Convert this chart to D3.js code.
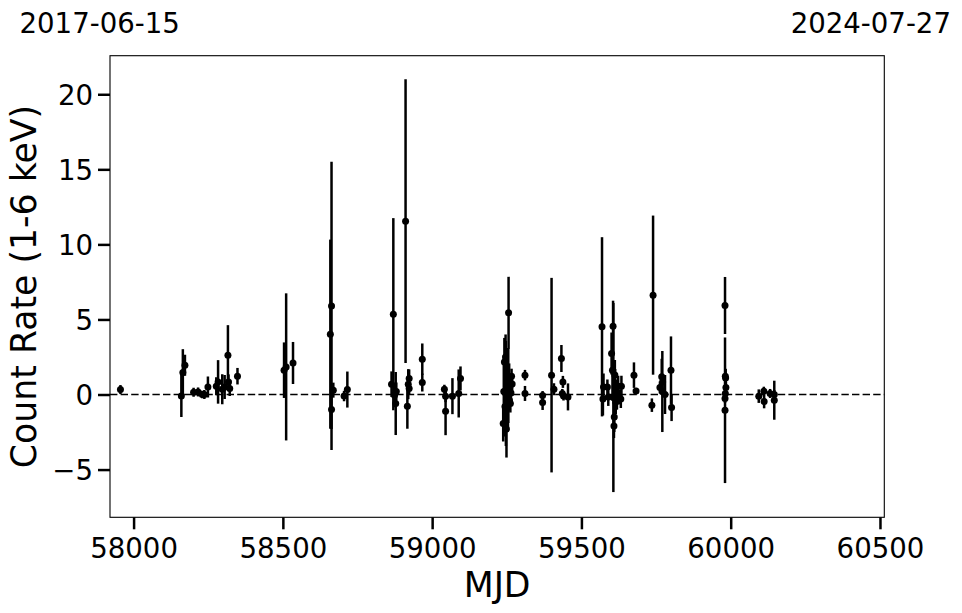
<!DOCTYPE html>
<html>
<head>
<meta charset="utf-8">
<script src="https://cdn.jsdelivr.net/npm/d3@7"></script>
<style>
  html, body { margin: 0; padding: 0; background: #fff; }
  svg { display: block; font-family: "DejaVu Sans", sans-serif; }
</style>
</head>
<body>
<svg id="chart" width="962" height="613"></svg>
<script>
// ---- data ----
const mjd = [
  57956,
  58160, 58165, 58172, 58201, 58216, 58230, 58237, 58249, 58277, 58283, 58297, 58305, 58316, 58318, 58322, 58348,
  58504, 58511, 58534,
  58659, 58663, 58663, 58669, 58705, 58716,
  58864, 58870, 58874, 58878, 58880, 58911, 58917, 58920, 58923, 58923, 58967, 58967,
  59041, 59045, 59045, 59068, 59089, 59095,
  59238, 59240, 59242, 59244, 59246, 59247, 59249, 59250, 59251, 59252, 59253, 59254, 59255, 59256, 59257, 59258, 59259, 59260, 59262, 59264, 59266, 59268,
  59311, 59311, 59370, 59370, 59400, 59408, 59433, 59438, 59436, 59440, 59455,
  59569, 59572, 59574, 59587, 59590, 59601, 59606, 59604, 59607, 59609, 59610, 59612, 59613, 59615, 59617, 59619, 59623, 59626, 59632, 59634,
  59676, 59683, 59736, 59740, 59763, 59769, 59771, 59772, 59780, 59800, 59802,
  59981, 59981, 59982, 59983, 59984, 59982, 59981,
  60094, 60111, 60112, 60132, 60146, 60146
];
const rate = [
  0.33,
  -0.1, 1.47, 1.95, 0.15, 0.17, 0.0, 0.0, 0.5, 0.55, 0.84, 0.35, 0.5, 2.62, 0.84, 0.4, 1.22,
  1.62, 1.84, 2.1,
  4.02, 5.9, -1.0, 0.29, -0.1, 0.33,
  0.69, 5.35, -0.05, -0.6, 0.2, 11.55, -0.78, 0.69, 1.07, 0.4, 2.35, 0.8,
  0.35, -0.11, -1.11, -0.11, 0.07, 1.07,
  -1.93, 0.2, 2.17, -0.8, 2.5, 0.07, -2.3, 0.5, -0.4, 1.0, 0.3, -0.2, 0.6, 5.44, 0.0, 1.17, -0.38, 0.5, -0.6, 0.1, 1.22, 0.7,
  1.29, 0.07, -0.07, -0.53, 1.29, 0.35, 2.4, 0.84, 0.07, -0.1, -0.16,
  4.51, -0.3, 0.5, 0.5, -0.16, 2.73, 4.55, 1.62, -0.2, -2.1, -1.5, 1.3, 0.5, -0.5, 0.0, -0.3, 0.55, -0.16, -0.3, 0.55,
  1.29, 0.24, -0.71, 6.62, 0.47, 1.18, 0.2, 0.84, 0.0, 1.62, -0.87,
  5.93, -1.05, 1.22, 1.1, 0.47, 0.07, -0.27,
  -0.11, 0.22, -0.47, 0.07, 0.0, -0.38
];
const err = [
  0.3,
  1.4, 1.55, 0.7, 0.3, 0.3, 0.25, 0.3, 0.7, 0.6, 1.45, 1.0, 0.8, 2.0, 0.5, 0.5, 0.55,
  1.85, 4.9, 1.4,
  6.3, 9.6, 1.3, 0.5, 0.35, 1.2,
  0.85, 6.4, 0.8, 2.1, 0.6, 9.45, 1.5, 1.0, 0.6, 0.4, 1.05, 0.6,
  0.3, 0.4, 1.6, 1.2, 1.6, 0.8,
  1.2, 2.4, 1.6, 2.0, 1.5, 3.5, 1.9, 1.0, 1.2, 1.5, 0.8, 2.0, 2.5, 2.4, 1.0, 0.9, 0.7, 0.8, 0.6, 0.5, 0.5, 0.5,
  0.35, 0.5, 0.3, 0.5, 6.48, 0.4, 0.9, 0.4, 0.3, 0.3, 0.9,
  5.97, 1.1, 0.9, 0.5, 0.6, 1.4, 1.7, 2.0, 6.3, 0.8, 1.0, 1.0, 1.2, 0.8, 1.0, 0.7, 0.7, 0.5, 0.6, 0.7,
  0.85, 0.2, 0.45, 5.3, 0.4, 1.2, 2.7, 0.5, 1.3, 2.25, 0.9,
  1.9, 4.85, 0.5, 0.6, 0.4, 0.3, 0.3,
  0.45, 0.3, 0.45, 0.3, 0.3, 1.3
];
const xTicks = [58000, 58500, 59000, 59500, 60000, 60500];
const yTicks = [-5, 0, 5, 10, 15, 20];
const xDomain = [57921, 60514.5];
const yDomain = [-8.18, 22.57];
const startLabel = "2017-06-15";
const endLabel = "2024-07-27";
const xTitle = "MJD";
const yTitle = "Count Rate (1-6 keV)";

(function () {
  // ---- layout ----
  const pL = 110, pR = 884.3, pT = 55.7, pB = 517.3;
  const svg = d3.select("#chart");
  const x = d3.scaleLinear().domain(xDomain).range([pL, pR]);
  const y = d3.scaleLinear().domain(yDomain).range([pB, pT]);

  const pts = mjd.map((m, i) => ({ m, r: rate[i], e: err[i] }));

  const plot = svg.append("g");
  // zero line
  plot.append("line")
    .attr("x1", pL).attr("x2", pR)
    .attr("y1", y(0)).attr("y2", y(0))
    .attr("stroke", "#000").attr("stroke-width", 1.5)
    .attr("stroke-dasharray", "7.4,3.2");

  // error bars
  plot.selectAll("line.err").data(pts).enter().append("line")
    .attr("class", "err")
    .attr("x1", d => x(d.m)).attr("x2", d => x(d.m))
    .attr("y1", d => y(d.r - d.e)).attr("y2", d => y(d.r + d.e))
    .attr("stroke", "#000").attr("stroke-width", 2.5);

  // markers
  plot.selectAll("circle").data(pts).enter().append("circle")
    .attr("cx", d => x(d.m)).attr("cy", d => y(d.r)).attr("r", 3.5)
    .attr("fill", "#000");

  // axes
  const xAxis = d3.axisBottom(x).tickValues(xTicks).tickSize(12).tickPadding(5)
    .tickFormat(d3.format("d"));
  const yAxis = d3.axisLeft(y).tickValues(yTicks).tickSize(12).tickPadding(5)
    .tickFormat(d => (d < 0 ? "\u2212" + Math.abs(d) : String(d)));

  const gx = svg.append("g").attr("transform", `translate(0,${pB})`).call(xAxis);
  const gy = svg.append("g").attr("transform", `translate(${pL},0)`).call(yAxis);
  [gx, gy].forEach(g => {
    g.select(".domain").remove();
    g.selectAll(".tick line").attr("stroke", "#000").attr("stroke-width", 2.5);
    g.selectAll(".tick text").attr("fill", "#000")
      .style("font-size", "27.6px").style("font-family", "DejaVu Sans, sans-serif");
  });
  gx.selectAll(".tick text").attr("dy", null).attr("y", 41);
  gy.selectAll(".tick text").attr("dy", "0.36em");

  // frame
  svg.append("rect")
    .attr("x", pL).attr("y", pT)
    .attr("width", pR - pL).attr("height", pB - pT)
    .attr("fill", "none").attr("stroke", "#000").attr("stroke-width", 1.1);

  // titles
  svg.append("text").attr("x", (pL + pR) / 2).attr("y", 597)
    .attr("text-anchor", "middle").style("font-size", "34.7px").text(xTitle);
  svg.append("text")
    .attr("transform", `translate(36,${(pT + pB) / 2}) rotate(-90)`)
    .attr("text-anchor", "middle").style("font-size", "34.7px").text(yTitle);

  svg.append("text").attr("x", 19.5).attr("y", 32.5)
    .attr("text-anchor", "start").style("font-size", "27.6px").text(startLabel);
  svg.append("text").attr("x", 951).attr("y", 32.5)
    .attr("text-anchor", "end").style("font-size", "27.6px").text(endLabel);
})();
</script>
</body>
</html>
